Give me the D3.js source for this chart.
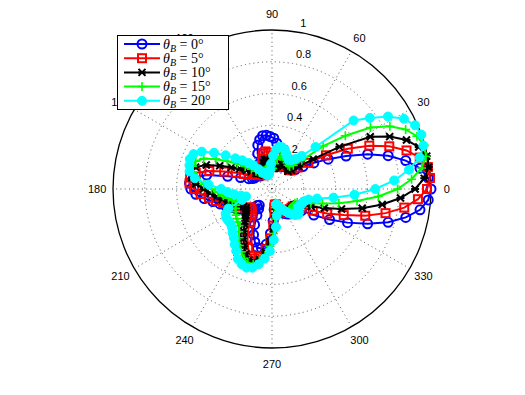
<!DOCTYPE html>
<html>
<head>
<meta charset="utf-8">
<script src="https://cdn.jsdelivr.net/npm/d3@7"></script>
<style>
  body { margin: 0; background: #fff; }
  svg text { font-family: "Liberation Sans", Arial, sans-serif; font-size: 11px; fill: #000; }
  .leg text { font-family: "Liberation Serif", "DejaVu Serif", serif; font-size: 14px; }
</style>
</head>
<body>
<div id="chart"></div>
<script>
// sample angles in degrees (0:4:356), same for every series
var theta = d3.range(0, 360, 4);

// normalised patterns, one value per angle above (rows of 40 deg)
var rB0 = [1.00,0.985,0.94,0.86,0.76,0.64,0.51,0.40,0.31,0.24,
  0.19,0.17,0.17,0.18,0.19,0.18,0.16,0.15,0.17,0.21,
  0.26,0.29,0.32,0.33,0.34,0.34,0.32,0.29,0.24,0.18,
  0.14,0.12,0.11,0.11,0.12,0.13,0.13,0.13,0.14,0.16,
  0.21,0.29,0.42,0.50,0.52,0.51,0.48,0.43,0.38,0.34,
  0.31,0.28,0.26,0.24,0.22,0.20,0.17,0.14,0.13,0.15,
  0.19,0.25,0.31,0.35,0.38,0.38,0.35,0.28,0.20,0.13,
  0.10,0.11,0.13,0.15,0.17,0.18,0.19,0.19,0.18,0.17,
  0.18,0.23,0.31,0.41,0.52,0.64,0.76,0.86,0.94,0.985];
var rB5 = [0.975,0.996,0.99,0.95,0.88,0.785,0.67,0.54,0.40,0.28,
  0.21,0.17,0.16,0.17,0.18,0.17,0.16,0.16,0.16,0.15,
  0.14,0.15,0.18,0.21,0.23,0.24,0.23,0.20,0.16,0.12,
  0.10,0.11,0.11,0.12,0.13,0.14,0.15,0.17,0.20,0.25,
  0.32,0.41,0.49,0.52,0.52,0.49,0.45,0.40,0.36,0.32,
  0.29,0.26,0.24,0.22,0.20,0.18,0.18,0.19,0.21,0.25,
  0.30,0.35,0.40,0.44,0.45,0.43,0.38,0.31,0.23,0.15,
  0.10,0.10,0.12,0.14,0.16,0.17,0.18,0.18,0.17,0.17,
  0.17,0.18,0.22,0.29,0.38,0.48,0.61,0.73,0.84,0.92];
var rB10 = [0.90,0.96,0.995,0.995,0.96,0.90,0.81,0.70,0.50,0.32,
  0.22,0.17,0.15,0.16,0.17,0.18,0.18,0.17,0.16,0.15,
  0.14,0.13,0.13,0.15,0.17,0.19,0.19,0.17,0.14,0.11,
  0.10,0.11,0.12,0.13,0.14,0.17,0.20,0.24,0.29,0.36,
  0.44,0.50,0.52,0.51,0.48,0.43,0.39,0.35,0.32,0.29,
  0.27,0.25,0.23,0.21,0.20,0.21,0.23,0.25,0.28,0.32,
  0.36,0.40,0.44,0.47,0.47,0.45,0.40,0.33,0.25,0.17,
  0.11,0.10,0.12,0.14,0.16,0.17,0.18,0.18,0.17,0.17,
  0.17,0.17,0.18,0.21,0.27,0.35,0.455,0.58,0.70,0.81];
var rB15 = [0.79,0.88,0.95,0.99,0.996,0.97,0.92,0.84,0.73,0.57,
  0.42,0.26,0.20,0.18,0.18,0.19,0.20,0.21,0.22,0.21,
  0.19,0.16,0.13,0.12,0.13,0.14,0.14,0.13,0.11,0.10,
  0.11,0.12,0.13,0.15,0.18,0.22,0.27,0.33,0.40,0.47,
  0.51,0.52,0.51,0.48,0.43,0.38,0.34,0.31,0.28,0.26,
  0.24,0.25,0.26,0.27,0.28,0.29,0.30,0.31,0.34,0.37,
  0.41,0.44,0.47,0.49,0.49,0.46,0.42,0.36,0.28,0.19,
  0.12,0.09,0.11,0.13,0.15,0.16,0.17,0.17,0.17,0.17,
  0.17,0.17,0.17,0.18,0.20,0.26,0.33,0.43,0.54,0.67];
var rB20 = [0.65,0.77,0.87,0.95,0.99,1.00,0.985,0.94,0.86,0.76,
  0.67,0.38,0.28,0.24,0.22,0.21,0.22,0.24,0.26,0.27,
  0.27,0.25,0.21,0.16,0.12,0.10,0.09,0.09,0.10,0.11,
  0.12,0.15,0.19,0.22,0.26,0.30,0.36,0.43,0.50,0.54,
  0.55,0.54,0.53,0.49,0.40,0.32,0.28,0.24,0.20,0.17,
  0.20,0.30,0.33,0.34,0.34,0.34,0.35,0.37,0.39,0.42,
  0.45,0.49,0.51,0.52,0.51,0.48,0.44,0.39,0.32,0.24,
  0.17,0.10,0.10,0.12,0.14,0.16,0.18,0.20,0.22,0.23,
  0.22,0.20,0.20,0.21,0.21,0.22,0.24,0.29,0.39,0.52];

var seriesNames = ["0", "5", "10", "15", "20"];
var seriesColors = ["#0000ff", "#ff0000", "#000000", "#00ff00", "#00ffff"];
var seriesMarkers = ["circle", "square", "x", "plus", "dot"];
var seriesData = [rB0, rB5, rB10, rB15, rB20];

var rTicks = [0.2, 0.4, 0.6, 0.8, 1];
var spokeAngles = [30, 60, 90, 120, 150, 180];

var width = 525, height = 395;
var cx = 272, cy = 189, R = 159;

var svg = d3.select("#chart").append("svg")
  .attr("width", width).attr("height", height);

var rScale = d3.scaleLinear().domain([0, 1]).range([0, R]);
var toRad = function(d){ return d * Math.PI / 180; };

var plot = svg.append("g").attr("transform", "translate(" + cx + "," + cy + ")");

// dotted rings
plot.selectAll(".ring").data(rTicks.slice(0, -1)).enter()
  .append("circle")
  .attr("r", function(d){ return rScale(d); })
  .attr("fill", "none").attr("stroke", "#444")
  .attr("stroke-width", 0.9).attr("stroke-dasharray", "1,3.3");

// dotted spokes (full diameters)
plot.selectAll(".spoke").data(spokeAngles).enter()
  .append("line")
  .attr("x1", function(d){ return -rScale(1) * Math.cos(toRad(d)); })
  .attr("y1", function(d){ return rScale(1) * Math.sin(toRad(d)); })
  .attr("x2", function(d){ return rScale(1) * Math.cos(toRad(d)); })
  .attr("y2", function(d){ return -rScale(1) * Math.sin(toRad(d)); })
  .attr("stroke", "#444").attr("stroke-width", 0.9).attr("stroke-dasharray", "1,3.3");

// outer circle
plot.append("circle").attr("r", rScale(1))
  .attr("fill", "none").attr("stroke", "#000").attr("stroke-width", 1.3);

// angle labels
var angLabels = spokeAngles.concat(spokeAngles.map(function(d){ return d + 180; }));
plot.selectAll(".alab").data(angLabels).enter()
  .append("text")
  .attr("x", function(d){ return rScale(1.1) * Math.cos(toRad(d)); })
  .attr("y", function(d){ return -rScale(1.1) * Math.sin(toRad(d)) + 4; })
  .attr("text-anchor", "middle")
  .text(function(d){ return d % 360; });

// radius labels at 82 deg
var c82 = Math.cos(toRad(82)), s82 = Math.sin(toRad(82));
plot.selectAll(".rlab").data(rTicks).enter()
  .append("text")
  .attr("x", function(d){ return rScale(d + 0.01) * c82 + 6; })
  .attr("y", function(d){ return -rScale(d + 0.01) * s82 - 3; })
  .text(function(d){ return d; });

// series
var radial = d3.lineRadial()
  .angle(function(d){ return Math.PI / 2 - toRad(d[0]); })
  .radius(function(d){ return rScale(d[1]); })
  .curve(d3.curveLinearClosed);

function drawMarker(g, type, color){
  if(type == "circle"){
    g.append("circle").attr("r", 4.5).attr("fill", "none").attr("stroke", color).attr("stroke-width", 2);
  }else if(type == "square"){
    g.append("rect").attr("x", -4).attr("y", -4).attr("width", 8).attr("height", 8)
      .attr("fill", "none").attr("stroke", color).attr("stroke-width", 2);
  }else if(type == "x"){
    g.append("path").attr("d", "M-3.5,-3.5L3.5,3.5M-3.5,3.5L3.5,-3.5M-4,0L4,0").attr("stroke", color).attr("stroke-width", 2);
  }else if(type == "plus"){
    g.append("path").attr("d", "M-4.5,0L4.5,0M0,-4.5L0,4.5").attr("stroke", color).attr("stroke-width", 1.6);
  }else{
    g.append("circle").attr("r", 4.5).attr("fill", color).attr("stroke", color).attr("stroke-width", 1);
  }
}

seriesData.forEach(function(vals, i){
  var pts = theta.map(function(t, j){ return [t, vals[j]]; });
  var g = plot.append("g");
  g.append("path").datum(pts)
    .attr("d", radial)
    .attr("fill", "none").attr("stroke", seriesColors[i]).attr("stroke-width", 2);
  pts.forEach(function(p){
    var a = toRad(p[0]);
    var m = g.append("g").attr("transform", "translate(" + (rScale(p[1]) * Math.cos(a)) + "," + (-rScale(p[1]) * Math.sin(a)) + ")");
    drawMarker(m, seriesMarkers[i], seriesColors[i]);
  });
});

// legend
var leg = svg.append("g").attr("class", "leg");
leg.append("rect").attr("x", 117.5).attr("y", 35.5).attr("width", 111).attr("height", 74)
  .attr("fill", "#fff").attr("stroke", "#000").attr("stroke-width", 1);
seriesNames.forEach(function(n, i){
  var y = 44 + i * 14.2;
  leg.append("line").attr("x1", 124).attr("x2", 160).attr("y1", y).attr("y2", y)
    .attr("stroke", seriesColors[i]).attr("stroke-width", 2);
  var m = leg.append("g").attr("transform", "translate(142," + y + ")");
  drawMarker(m, seriesMarkers[i], seriesColors[i]);
  var t = leg.append("text").attr("x", 163).attr("y", y + 4.5);
  t.append("tspan").attr("font-style", "italic").text("θ");
  t.append("tspan").attr("font-style", "italic").attr("font-size", "10px").attr("dy", 3).text("B");
  t.append("tspan").attr("dy", -3).text(" = " + n + "°");
});
</script>
</body>
</html>
